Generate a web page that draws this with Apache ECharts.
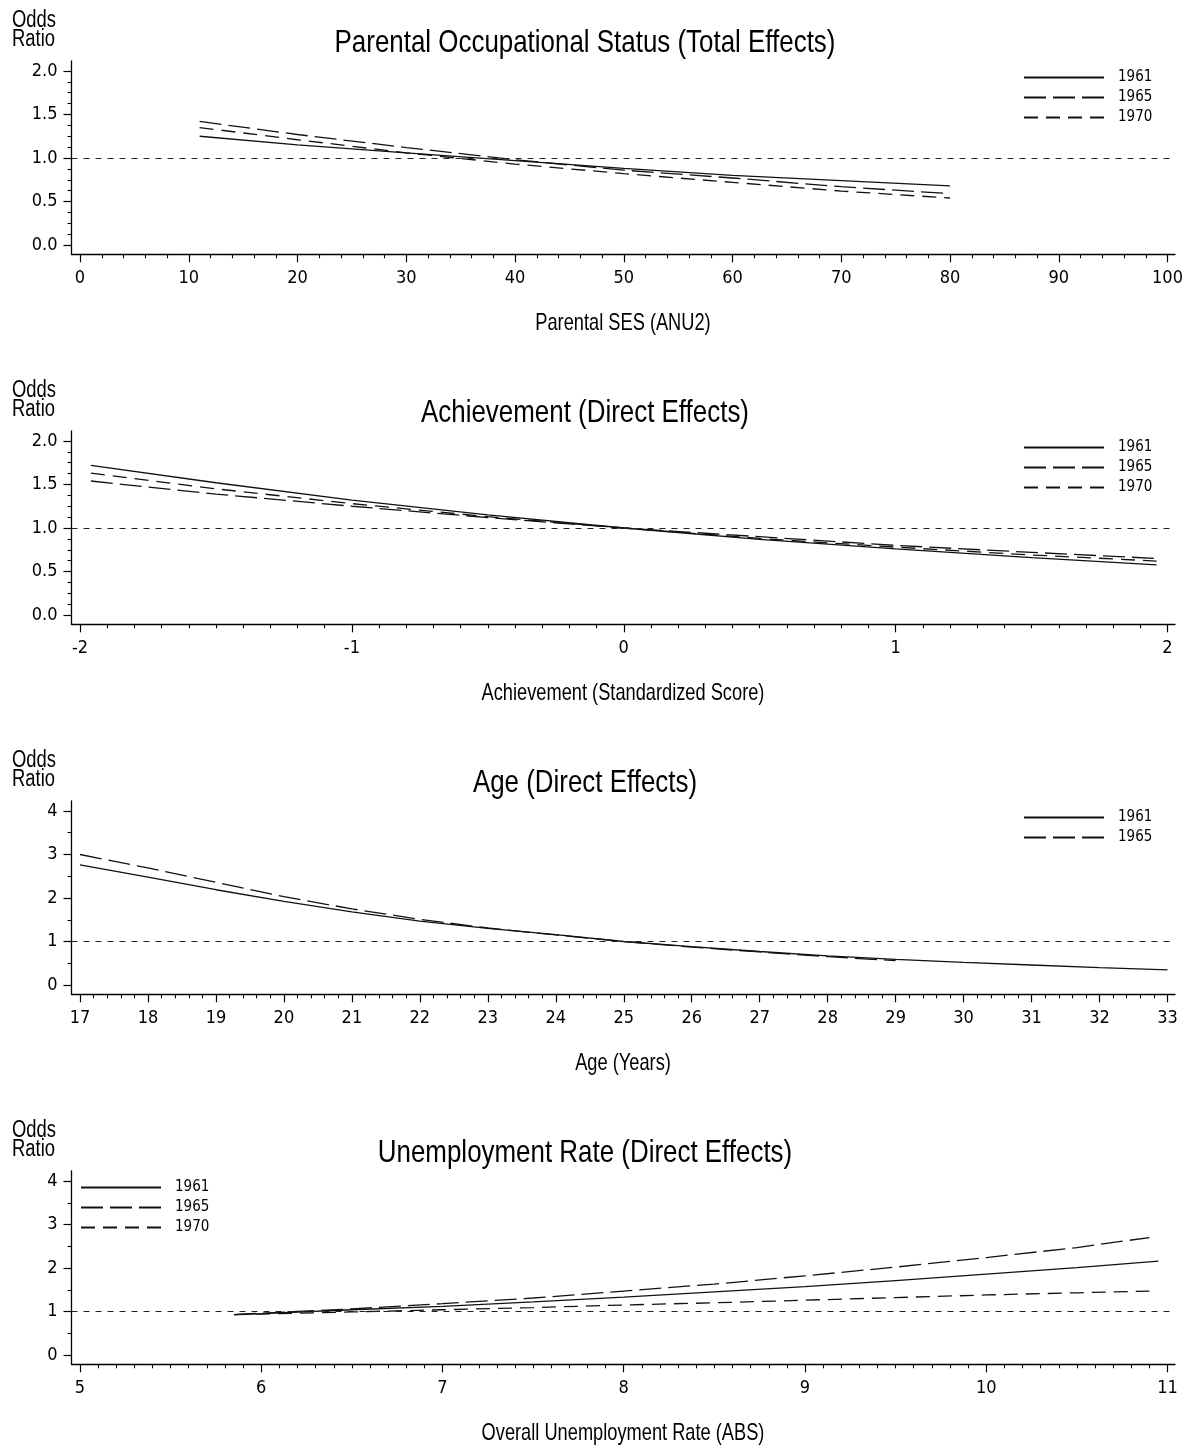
<!DOCTYPE html>
<html><head><meta charset="utf-8">
<script src="https://cdn.jsdelivr.net/npm/echarts@6/dist/echarts.min.js"></script>
<style>html,body{margin:0;padding:0;background:#fff}#chart{width:1187px;height:1446px}</style>
</head><body><div id="chart"></div>
<script>
// ---------------- data ----------------
const panelTitles = [
  'Parental Occupational Status (Total Effects)',
  'Achievement (Direct Effects)',
  'Age (Direct Effects)',
  'Unemployment Rate (Direct Effects)'
];
const xAxisNames = [
  'Parental SES (ANU2)',
  'Achievement (Standardized Score)',
  'Age (Years)',
  'Overall Unemployment Rate (ABS)'
];
const yAxisLabel = ['Odds', 'Ratio'];
const cohortNames = ['1961', '1965', '1970'];

// Panel 1: Parental SES
const sesX    = [11, 20, 30, 40, 50, 60, 70, 80];
const ses1961 = [1.25, 1.15, 1.06, 0.97, 0.88, 0.80, 0.74, 0.68];
const ses1965 = [1.42, 1.27, 1.12, 0.98, 0.86, 0.77, 0.67, 0.59];
const ses1970 = [1.35, 1.21, 1.06, 0.93, 0.82, 0.72, 0.62, 0.54];

// Panel 2: Achievement
const achX    = [-1.96, -1.5, -1, -0.5, 0, 0.5, 1, 1.5, 1.96];
const ach1961 = [1.72, 1.52, 1.32, 1.15, 1.00, 0.87, 0.76, 0.66, 0.575];
const ach1965 = [1.54, 1.39, 1.25, 1.12, 1.00, 0.90, 0.80, 0.72, 0.65];
const ach1970 = [1.63, 1.45, 1.28, 1.13, 1.00, 0.88, 0.78, 0.69, 0.62];

// Panel 3: Age
const age1961X = [17, 18, 19, 20, 21, 22, 23, 24, 25, 26, 27, 28, 29, 30, 31, 32, 33];
const age1961  = [2.76, 2.48, 2.19, 1.92, 1.68, 1.47, 1.30, 1.16, 1.00, 0.88, 0.77, 0.67, 0.59, 0.52, 0.46, 0.40, 0.35];
const age1965X = [17, 18, 19, 20, 21, 22, 23, 24, 25, 26, 27, 28, 29];
const age1965  = [3.00, 2.69, 2.36, 2.03, 1.75, 1.51, 1.31, 1.15, 1.00, 0.87, 0.76, 0.65, 0.56];

// Panel 4: Unemployment rate
const un1961X = [5.85, 6, 6.5, 7, 7.5, 8, 8.5, 9, 9.5, 10, 10.5, 10.95];
const un1961  = [0.93, 0.95, 1.04, 1.12, 1.22, 1.33, 1.45, 1.57, 1.71, 1.86, 2.01, 2.16];
const unX     = [5.85, 6, 6.5, 7, 7.5, 8, 8.5, 9, 9.5, 10, 10.5, 10.9];
const un1965  = [0.93, 0.96, 1.06, 1.18, 1.31, 1.47, 1.63, 1.82, 2.02, 2.24, 2.47, 2.70];
const un1970  = [0.93, 0.94, 0.99, 1.04, 1.09, 1.15, 1.20, 1.26, 1.32, 1.38, 1.43, 1.47];

// Tick labels
const xTickLabels = [
  [0, 10, 20, 30, 40, 50, 60, 70, 80, 90, 100],
  [-2, -1, 0, 1, 2],
  [17, 18, 19, 20, 21, 22, 23, 24, 25, 26, 27, 28, 29, 30, 31, 32, 33],
  [5, 6, 7, 8, 9, 10, 11]
];
const yTickLabels = [
  [0, 0.5, 1, 1.5, 2],
  [0, 0.5, 1, 1.5, 2],
  [0, 1, 2, 3, 4],
  [0, 1, 2, 3, 4]
];
const refValue = 1;

// ---------------- layout / style ----------------
const FF_TICK = "'DejaVu Sans Condensed','Liberation Sans Narrow',sans-serif";
const FF_TEXT = "'Liberation Sans',Arial,sans-serif";
const xMinorStep = [2, 0.1, 0.2, 0.1];
const yMinorStep = [0.125, 0.125, 0.5, 0.5];
const yDecimals = [1, 1, 0, 0];
const PLOT_L = 71.5, PLOT_R = 1175, X_FIRST = 80, X_LAST = 1167.5;
const TOPS = [71, 441, 811, 1181], BOTS = [245, 615, 985, 1355];
const PAD_T = 10, PAD_B = 9.3;
const PANEL_STEP = 370;
const legendLeft = [1023, 1023, 1023, 80];
const panelSeries = [
  [[sesX, ses1961], [sesX, ses1965], [sesX, ses1970]],
  [[achX, ach1961], [achX, ach1965], [achX, ach1970]],
  [[age1961X, age1961], [age1965X, age1965]],
  [[un1961X, un1961], [unX, un1965], [unX, un1970]]
];
const dashTypes = ['solid', [22, 7], [14, 8]];

function minorValues(majors, step) {
  const out = [];
  const a = majors[0], b = majors[majors.length - 1];
  const n = Math.round((b - a) / step);
  for (let k = 0; k <= n; k++) {
    const v = +(a + k * step).toFixed(6);
    if (!majors.some(m => Math.abs(m - v) < 1e-9)) out.push(v);
  }
  return out;
}
function zip(xs, ys) { return xs.map((x, i) => [x, ys[i]]); }
function label(text, x, y, size, sx, align) {
  return { type: 'text', x, y, scaleX: sx, scaleY: 1, silent: true,
    style: { text, fontSize: size, fontFamily: FF_TEXT, fill: '#000', align: align || 'center', verticalAlign: 'middle' } };
}

const grid = [], xAxis = [], yAxis = [], series = [], legend = [], graphic = [];
for (let i = 0; i < 4; i++) {
  const xt = xTickLabels[i], yt = yTickLabels[i];
  const x0 = xt[0], x1 = xt[xt.length - 1];
  const xs = (x1 - x0) / (X_LAST - X_FIRST);
  const xmin = x0 - (X_FIRST - PLOT_L) * xs, xmax = x1 + (PLOT_R - X_LAST) * xs;
  const y0 = yt[0], y1 = yt[yt.length - 1];
  const ys = (y1 - y0) / (BOTS[i] - TOPS[i]);
  const ymin = y0 - PAD_B * ys, ymax = y1 + PAD_T * ys;
  grid.push({ left: PLOT_L, width: PLOT_R - PLOT_L, top: TOPS[i] - PAD_T, height: BOTS[i] - TOPS[i] + PAD_T + PAD_B, containLabel: false });

  const axisLine = { show: true, onZero: false, lineStyle: { color: '#000', width: 1.3 } };
  xAxis.push({
    type: 'value', gridIndex: i, position: 'bottom', min: xmin, max: xmax,
    axisLine, splitLine: { show: false },
    axisTick: { show: true, length: 8, customValues: xt, lineStyle: { color: '#000', width: 1.2 } },
    axisLabel: { show: true, customValues: xt, margin: 15, fontSize: 18, fontFamily: FF_TICK, color: '#000',
      formatter: v => String(Math.round(v * 1000) / 1000) }
  });
  xAxis.push({
    type: 'value', gridIndex: i, position: 'bottom', min: xmin, max: xmax,
    axisLine: { show: false, onZero: false }, splitLine: { show: false },
    axisTick: { show: true, length: 4, customValues: minorValues(xt, xMinorStep[i]), lineStyle: { color: '#000', width: 1.1 } },
    axisLabel: { show: false }
  });
  yAxis.push({
    type: 'value', gridIndex: i, position: 'left', min: ymin, max: ymax,
    axisLine, splitLine: { show: false },
    axisTick: { show: true, length: 8, customValues: yt, lineStyle: { color: '#000', width: 1.2 } },
    axisLabel: { show: true, customValues: yt, margin: 14, fontSize: 18, fontFamily: FF_TICK, color: '#000',
      formatter: v => Number(v).toFixed(yDecimals[i]) }
  });
  yAxis.push({
    type: 'value', gridIndex: i, position: 'left', min: ymin, max: ymax,
    axisLine: { show: false, onZero: false }, splitLine: { show: false },
    axisTick: { show: true, length: 4, customValues: minorValues(yt, yMinorStep[i]), lineStyle: { color: '#000', width: 1.1 } },
    axisLabel: { show: false }
  });

  const names = [];
  panelSeries[i].forEach((pair, k) => {
    names.push(cohortNames[k]);
    const s = {
      type: 'line', name: cohortNames[k], xAxisIndex: 2 * i, yAxisIndex: 2 * i,
      data: zip(pair[0], pair[1]), symbol: 'none', smooth: false,
      lineStyle: { color: '#111', width: 1.3, type: dashTypes[k] }, itemStyle: { color: '#111' }
    };
    if (k === 0) {
      s.markLine = { silent: true, symbol: 'none', label: { show: false },
        lineStyle: { color: '#222', width: 1.2, type: [6, 6] }, data: [{ yAxis: refValue }] };
    }
    series.push(s);
  });
  legend.push({
    orient: 'vertical', left: legendLeft[i], top: TOPS[i] - 1, padding: 0,
    itemWidth: 80, itemHeight: 14, itemGap: 5, selectedMode: false,
    itemStyle: { color: 'rgba(0,0,0,0)', borderColor: 'rgba(0,0,0,0)', borderWidth: 0 },
    data: names,
    textStyle: { fontSize: 15, lineHeight: 14, fontFamily: FF_TICK, color: '#000', padding: [0, 0, 0, 9] }
  });

  const dy = PANEL_STEP * i;
  graphic.push(label(panelTitles[i], 585, 43 + dy, 32, 0.81));
  graphic.push(label(xAxisNames[i], 623, 323 + dy, 24, 0.76));
  graphic.push(label(yAxisLabel[0], 12, 21 + dy, 23, 0.8, 'left'));
  graphic.push(label(yAxisLabel[1], 12, 40 + dy, 23, 0.8, 'left'));
}

const chart = echarts.init(document.getElementById('chart'), null, { renderer: 'canvas' });
chart.setOption({
  animation: false,
  backgroundColor: '#fff',
  grid, xAxis, yAxis, series, legend, graphic
});
</script>
</body></html>
